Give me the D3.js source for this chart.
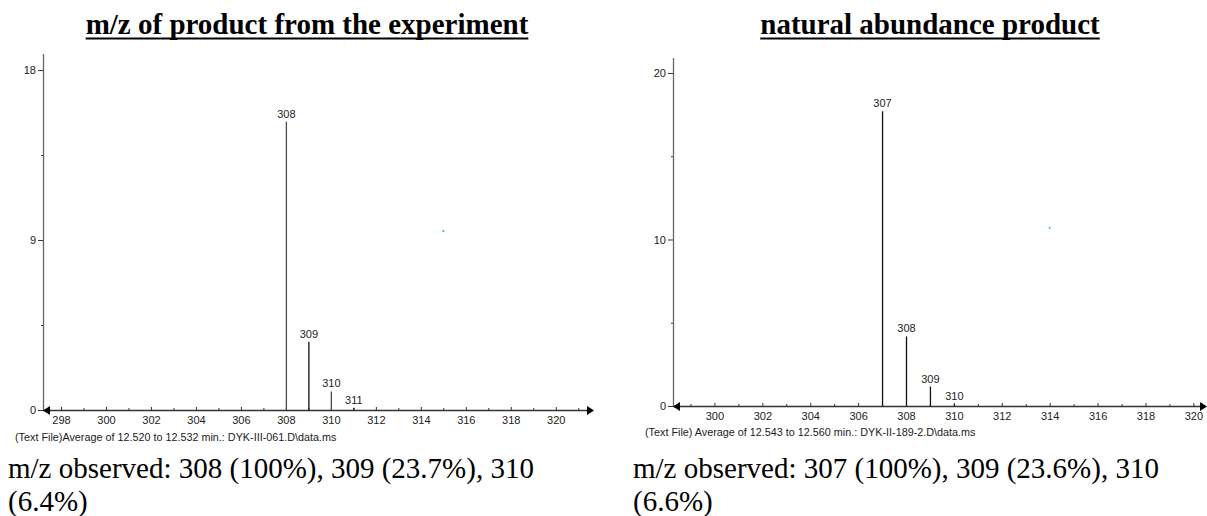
<!DOCTYPE html>
<html>
<head>
<meta charset="utf-8">
<script src="https://cdn.jsdelivr.net/npm/d3@7"></script>
<style>
  html, body { margin: 0; padding: 0; background: #fff; }
  svg { display: block; }
</style>
</head>
<body>
<svg id="chart" width="1207" height="516"></svg>
<script>
// Spectrum A: product from the experiment
const mzA = [308, 309, 310, 311];
const abundanceA = [15.26, 3.62, 0.98, 0.12];
const yTicksA = [0, 9, 18];
const yMinorA = [4.5, 13.5];
const xTicksA = [298, 300, 302, 304, 306, 308, 310, 312, 314, 316, 318, 320];
const xMinorA = [299, 301, 303, 305, 307, 309, 311, 313, 315, 317, 319, 321];
const strayA = [[315, 9.48]];

// Spectrum B: natural abundance product
const mzB = [307, 308, 309, 310];
const abundanceB = [17.7, 4.18, 1.17, 0.1];
const yTicksB = [0, 10, 20];
const yMinorB = [5, 15];
const xTicksB = [300, 302, 304, 306, 308, 310, 312, 314, 316, 318, 320];
const xMinorB = [299, 301, 303, 305, 307, 309, 311, 313, 315, 317, 319];
const strayB = [[314, 10.7]];

const titles = ["m/z of product from the experiment", "natural abundance product"];
const sources = [
  "(Text File)Average of 12.520 to 12.532 min.: DYK-III-061.D\\data.ms",
  "(Text File) Average of 12.543 to 12.560 min.: DYK-II-189-2.D\\data.ms"
];
const captions = [
  ["m/z observed: 308 (100%), 309 (23.7%), 310", "(6.4%)"],
  ["m/z observed: 307 (100%), 309 (23.6%), 310", "(6.6%)"]
];

const svg = d3.select("#chart");

const panels = [
  {
    mz: mzA, ab: abundanceA, yTicks: yTicksA, yMinor: yMinorA,
    xTicks: xTicksA, xMinor: xMinorA, stray: strayA,
    xDomain: [297.2, 321.7], xRange: [43, 594],
    yDomain: [0, 18.85], yRange: [410, 54],
    barColors: ["#4a4a4a", "#111", "#4a4a4a", "#111"],
    titleX: 307, sourceX: 15, sourceY: 441, captionX: 8,
    title: titles[0], source: sources[0], caption: captions[0]
  },
  {
    mz: mzB, ab: abundanceB, yTicks: yTicksB, yMinor: yMinorB,
    xTicks: xTicksB, xMinor: xMinorB, stray: strayB,
    xDomain: [298.27, 320.57], xRange: [673, 1207],
    yDomain: [0, 20.9], yRange: [406, 58],
    barColors: ["#111", "#111", "#111", "#111"],
    titleX: 930, sourceX: 645, sourceY: 436, captionX: 633,
    title: titles[1], source: sources[1], caption: captions[1]
  }
];

panels.forEach(p => {
  const x = d3.scaleLinear().domain(p.xDomain).range(p.xRange);
  const y = d3.scaleLinear().domain(p.yDomain).range(p.yRange);
  const g = svg.append("g");
  const y0 = y(0);
  const axisColor = "#333";

  // heading, underlined
  const t = g.append("text")
    .attr("x", p.titleX).attr("y", 34)
    .attr("text-anchor", "middle")
    .attr("font-family", "'Liberation Serif', 'Times New Roman', serif")
    .attr("font-weight", "bold")
    .attr("font-size", 29)
    .attr("fill", "#000")
    .text(p.title);
  const tw = t.node().getComputedTextLength();
  g.append("line")
    .attr("x1", p.titleX - tw / 2).attr("x2", p.titleX + tw / 2)
    .attr("y1", 38.5).attr("y2", 38.5)
    .attr("stroke", "#000").attr("stroke-width", 2);

  // y axis
  const yAxis = d3.axisLeft(y).tickValues(p.yTicks).tickSize(5).tickPadding(2).tickFormat(d3.format("d"));
  const ya = g.append("g").attr("transform", `translate(${p.xRange[0]},0)`).call(yAxis);
  ya.select(".domain").remove();
  ya.selectAll(".tick line").attr("stroke", axisColor);
  ya.selectAll(".tick text")
    .attr("font-family", "'Liberation Sans', Arial, sans-serif")
    .attr("font-size", 11).attr("fill", "#222");
  const yMin = d3.axisLeft(y).tickValues(p.yMinor).tickSize(2).tickFormat("");
  const ym = g.append("g").attr("transform", `translate(${p.xRange[0]},0)`).call(yMin);
  ym.select(".domain").remove();
  ym.selectAll(".tick line").attr("stroke", axisColor);
  g.append("line")
    .attr("x1", p.xRange[0] + 0.5).attr("x2", p.xRange[0] + 0.5)
    .attr("y1", p.yRange[1]).attr("y2", y0)
    .attr("stroke", "#666").attr("stroke-width", 1.3);

  // x axis
  const xAxis = d3.axisBottom(x).tickValues(p.xTicks).tickSize(-3).tickPadding(6).tickFormat(d3.format("d"));
  const xa = g.append("g").attr("transform", `translate(0,${y0})`).call(xAxis);
  xa.select(".domain").remove();
  xa.selectAll(".tick line").attr("stroke", axisColor);
  xa.selectAll(".tick text")
    .attr("font-family", "'Liberation Sans', Arial, sans-serif")
    .attr("font-size", 11).attr("fill", "#222");
  const xMin = d3.axisBottom(x).tickValues(p.xMinor).tickSize(-2).tickFormat("");
  const xm = g.append("g").attr("transform", `translate(0,${y0})`).call(xMin);
  xm.select(".domain").remove();
  xm.selectAll(".tick line").attr("stroke", axisColor);

  const xl = p.xRange[0], xr = p.xRange[1];
  g.append("line")
    .attr("x1", xl).attr("x2", xr - 5)
    .attr("y1", y0 + 0.5).attr("y2", y0 + 0.5)
    .attr("stroke", "#333").attr("stroke-width", 1.3);
  // arrowheads at both ends of the m/z axis
  g.append("path")
    .attr("d", `M${xl},${y0 + 0.5} L${xl + 7},${y0 - 4} L${xl + 7},${y0 + 5} Z`)
    .attr("fill", "#000");
  g.append("path")
    .attr("d", `M${xr},${y0 + 0.5} L${xr - 7},${y0 - 4} L${xr - 7},${y0 + 5} Z`)
    .attr("fill", "#000");

  // spectrum lines
  g.selectAll("line.peak").data(p.mz).enter().append("line")
    .attr("class", "peak")
    .attr("x1", d => x(d) + 0.5).attr("x2", d => x(d) + 0.5)
    .attr("y1", y0).attr("y2", (d, i) => y(p.ab[i]))
    .attr("stroke", (d, i) => p.barColors[i])
    .attr("stroke-width", 1.3);
  g.selectAll("text.peak").data(p.mz).enter().append("text")
    .attr("class", "peak")
    .attr("x", d => x(d) + 0.5)
    .attr("y", (d, i) => y(p.ab[i]) - 4)
    .attr("text-anchor", "middle")
    .attr("font-family", "'Liberation Sans', Arial, sans-serif")
    .attr("font-size", 11).attr("fill", "#222")
    .text(d => d);

  // stray detector point
  g.selectAll("rect.stray").data(p.stray).enter().append("rect")
    .attr("class", "stray")
    .attr("x", d => x(d[0]) - 1).attr("y", d => y(d[1]) - 1)
    .attr("width", 2).attr("height", 2)
    .attr("fill", "#4cc8c8");

  // data file line
  g.append("text")
    .attr("x", p.sourceX).attr("y", p.sourceY)
    .attr("font-family", "'Liberation Sans', Arial, sans-serif")
    .attr("font-size", 10.8).attr("fill", "#222")
    .text(p.source);

  // observed m/z summary
  p.caption.forEach((line, i) => {
    g.append("text")
      .attr("x", p.captionX).attr("y", 478 + i * 33)
      .attr("font-family", "'Liberation Serif', 'Times New Roman', serif")
      .attr("font-size", 29).attr("fill", "#000")
      .text(line);
  });
});
</script>
</body>
</html>
